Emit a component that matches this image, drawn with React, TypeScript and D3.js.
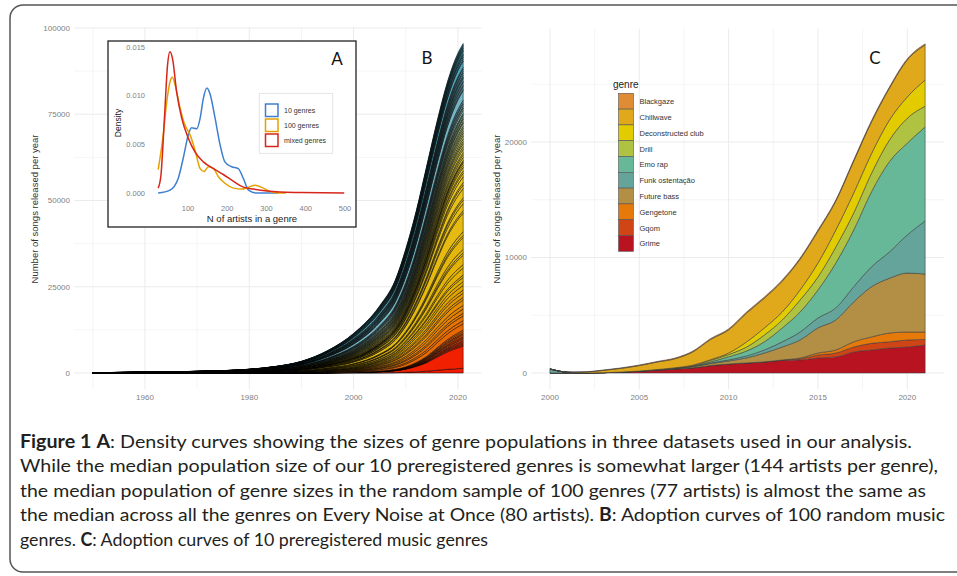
import * as d3 from "d3";

// ---------- Panel A: density of genre sizes ----------
const tenGenresDensity: [number, number][] = [
  [24, 0], [54, 0.0003], [75, 0.0015], [88, 0.0036], [101, 0.006], [109, 0.0067], [122, 0.0066],
  [131, 0.0077], [139, 0.0097], [148, 0.0108], [156, 0.0102], [169, 0.0077], [182, 0.0049],
  [194, 0.0032], [211, 0.0027], [228, 0.0025], [241, 0.0015], [254, 0.0003], [275, 0], [330, 0]
];
const hundredGenresDensity: [number, number][] = [
  [24, 0.0024], [37, 0.006], [46, 0.0094], [54, 0.0114], [60, 0.0119], [69, 0.0108], [80, 0.0087],
  [92, 0.007], [105, 0.006], [118, 0.0044], [131, 0.0025], [141, 0.0022], [152, 0.0027],
  [165, 0.0025], [177, 0.0017], [194, 0.001], [216, 0.0005], [237, 0.0004], [254, 0.0006],
  [271, 0.0008], [292, 0.0005], [313, 0.0001], [334, 0], [350, 0]
];
const mixedGenresDensity: [number, number][] = [
  [24, 0.0005], [31, 0.0018], [40, 0.0077], [48, 0.0132], [54, 0.0145], [61, 0.0137], [71, 0.0104],
  [84, 0.0077], [101, 0.0056], [118, 0.0042], [139, 0.0032], [165, 0.0025], [190, 0.0019],
  [216, 0.0012], [241, 0.0006], [267, 0.0004], [301, 0.0002], [334, 0.0001], [386, 0.00005], [498, 0]
];
const densityLabels = ["10 genres", "100 genres", "mixed genres"];
const densityColors = ["#3f7fcf", "#e6a100", "#d6261a"];
const densityXTicks = [100, 200, 300, 400, 500];
const densityYTicks = [0, 0.005, 0.01, 0.015];

// ---------- Panel B: 100 random genres, in five colour groups ----------
const adoptionYears = [1950, 1960, 1970, 1980, 1985, 1990, 1995, 2000, 2005, 2008, 2010, 2012, 2014, 2016, 2018, 2020, 2021];
const redGroupSongs = [2, 5, 10, 22, 38, 68, 130, 230, 585, 1080, 1800, 3055, 4800, 7300, 9720, 11625, 12415];
const orangeGroupSongs = [12, 30, 60, 132, 228, 408, 780, 1380, 2925, 4590, 6480, 8460, 10500, 12410, 13940, 14880, 15280];
const yellowGroupSongs = [25, 62, 125, 275, 475, 850, 1625, 2875, 5070, 7155, 9720, 13630, 18600, 24090, 29150, 32740, 33900];
const oliveGroupSongs = [15, 38, 75, 165, 285, 510, 975, 1725, 2730, 3510, 4320, 5640, 7200, 8540, 9720, 10510, 10790];
const blueGroupSongs = [46, 115, 230, 506, 874, 1564, 2990, 5290, 8190, 10665, 13680, 16215, 18900, 20660, 21970, 23000, 23110];
// relative size of each genre inside its group (bottom to top)
const redGroupWeights = [11, 52, 3, 3, 3, 3, 4, 3, 3, 4, 3, 4, 4];
const orangeGroupWeights = [12, 6, 9, 5, 8, 7, 10, 5, 8, 6, 9, 7, 8];
const yellowGroupWeights = [2, 6, 3, 8, 2, 3, 10, 2, 3, 16, 2, 6, 3, 2, 8, 3, 2, 5, 3, 2, 3, 2, 2, 1, 1];
const oliveGroupWeights = [8, 7, 6, 9, 7, 8, 6, 7, 8, 7, 6, 7, 6, 8];
const blueGroupWeights = [2, 3, 2, 3, 2, 4, 3, 2, 3, 2, 3, 12, 2, 3, 2, 3, 2, 3, 2, 2, 3, 2, 3, 2, 8, 2, 3, 2, 2, 3, 2, 2, 2, 2, 2];
const zissou = ["#F21A00", "#E1AF00", "#EBCC2A", "#78B7C5", "#3B9AB2"];
const bYTicks = [0, 25000, 50000, 75000, 100000];
const bXTicks = [1960, 1980, 2000, 2020];

// ---------- Panel C: 10 preregistered genres ----------
const genreYears = d3.range(2000, 2022);
const genreNames = ["Grime", "Gqom", "Gengetone", "Future bass", "Funk ostentação", "Emo rap", "Drill", "Deconstructed club", "Chillwave", "Blackgaze"];
const genreColors = ["#b81321", "#d04516", "#e57a0b", "#b38f45", "#65a49a", "#67b899", "#afc241", "#e2cc00", "#e0a91c", "#df8c35"];
const grime = [0, 0, 10, 30, 80, 150, 250, 350, 450, 650, 780, 870, 950, 1100, 1130, 1300, 1390, 1820, 1990, 2160, 2250, 2420];
const gqom = [0, 0, 0, 0, 0, 0, 0, 0, 0, 0, 0, 5, 10, 20, 100, 260, 340, 430, 580, 540, 610, 480];
const gengetone = [0, 0, 0, 0, 0, 0, 0, 0, 0, 0, 0, 0, 5, 10, 70, 170, 260, 450, 550, 760, 690, 650];
const futureBass = [0, 0, 0, 0, 5, 15, 30, 60, 100, 170, 260, 430, 765, 1120, 1560, 2170, 2600, 3450, 4350, 4740, 5100, 5020];
const funkOstentacao = [350, 60, 0, 0, 0, 0, 0, 0, 20, 50, 100, 170, 260, 450, 690, 860, 1040, 1320, 1730, 2280, 3300, 4590];
const emoRap = [0, 0, 0, 0, 0, 0, 5, 10, 30, 100, 260, 430, 710, 1200, 1730, 2430, 3890, 4910, 6500, 7820, 7950, 8140];
const drill = [0, 0, 0, 0, 0, 0, 5, 15, 40, 120, 200, 340, 590, 690, 1040, 1120, 1390, 1470, 1600, 1870, 2160, 1800];
const deconstructedClub = [0, 0, 0, 0, 0, 5, 10, 20, 40, 70, 130, 440, 610, 690, 870, 1210, 1470, 1730, 1700, 1730, 1840, 2270];
const chillwave = [0, 10, 80, 200, 320, 470, 650, 780, 1150, 1750, 2000, 2490, 2580, 2670, 2660, 2760, 2500, 2760, 2750, 2760, 3200, 3030];
const blackgaze = [0, 5, 15, 30, 40, 50, 50, 60, 70, 80, 90, 100, 100, 100, 100, 100, 100, 100, 100, 100, 100, 100];
const genreSeries = [grime, gqom, gengetone, futureBass, funkOstentacao, emoRap, drill, deconstructedClub, chillwave, blackgaze];
const cYTicks = [0, 10000, 20000];
const cXTicks = [2000, 2005, 2010, 2015, 2020];

const captionLines = [
  { parts: [["Figure 1", true], ["  ", false], ["A", true], [": Density curves showing the sizes of genre populations in three datasets used in our analysis.", false]], width: 892 },
  { parts: [["While the median population size of our 10 preregistered genres is somewhat larger (144 artists per genre),", false]], width: 918 },
  { parts: [["the median population of genre sizes in the random sample of 100 genres (77 artists) is almost the same as", false]], width: 906 },
  { parts: [["the median across all the genres on Every Noise at Once (80 artists). ", false], ["B", true], [": Adoption curves of 100 random music", false]], width: 925 },
  { parts: [["genres. ", false], ["C", true], [": Adoption curves of 10 preregistered music genres", false]], width: 468 }
] as { parts: [string, boolean][]; width: number }[];

const AXIS_FONT = "'Liberation Sans', Arial, sans-serif";
const GRID = "#ebebeb";

export default function App() {
  // ----- B -----
  const groups = [
    { values: redGroupSongs, weights: redGroupWeights },
    { values: orangeGroupSongs, weights: orangeGroupWeights },
    { values: yellowGroupSongs, weights: yellowGroupWeights },
    { values: oliveGroupSongs, weights: oliveGroupWeights },
    { values: blueGroupSongs, weights: blueGroupWeights }
  ];
  const bKeys: string[] = [];
  groups.forEach((g) => g.weights.forEach(() => bKeys.push(`g${bKeys.length}`)));
  const bRows = adoptionYears.map((year, yi) => {
    const row: Record<string, number> = { year };
    let k = 0;
    groups.forEach((g) => {
      const total = d3.sum(g.weights);
      g.weights.forEach((w) => {
        row[`g${k}`] = (g.values[yi] * w) / total;
        k++;
      });
    });
    return row;
  });
  const bStack = d3.stack<Record<string, number>>().keys(bKeys)(bRows);
  const bx = d3.scaleLinear().domain([1946.45, 2024.55]).range([74.3, 481.7]);
  const by = d3.scaleLinear().domain([-4775, 100275]).range([389.5, 27]);
  const bColor = d3.scaleLinear<string>().domain([0, 0.25, 0.5, 0.75, 1]).range(zissou);
  const bArea = d3
    .area<d3.SeriesPoint<Record<string, number>>>()
    .x((d) => bx(d.data.year))
    .y0((d) => by(d[0]))
    .y1((d) => by(d[1]))
    .curve(d3.curveMonotoneX);

  // ----- C -----
  const cRows = genreYears.map((year, i) => {
    const row: Record<string, number> = { year };
    genreNames.forEach((name, gi) => (row[name] = genreSeries[gi][i]));
    return row;
  });
  const cStack = d3.stack<Record<string, number>>().keys(genreNames)(cRows);
  const cx = d3.scaleLinear().domain([1998.95, 2022.05]).range([531.2, 943.9]);
  const cy = d3.scaleLinear().domain([-1420, 29820]).range([389.4, 28.6]);
  const cArea = d3
    .area<d3.SeriesPoint<Record<string, number>>>()
    .x((d) => cx(d.data.year))
    .y0((d) => cy(d[0]))
    .y1((d) => cy(d[1]))
    .curve(d3.curveMonotoneX);

  // ----- A (inset) -----
  const ax = d3.scaleLinear().domain([100, 500]).range([188, 345]);
  const ay = d3.scaleLinear().domain([0, 0.015]).range([193, 47]);
  const densityLine = d3
    .line<[number, number]>()
    .x((d) => ax(d[0]))
    .y((d) => ay(d[1]))
    .curve(d3.curveMonotoneX);
  const densities = [tenGenresDensity, hundredGenresDensity, mixedGenresDensity];

  const bMinorX = [1950, 1970, 1990, 2010];
  const bMinorY = [12500, 37500, 62500, 87500];
  const cMinorX = [2002.5, 2007.5, 2012.5, 2017.5];
  const cMinorY = [5000, 15000, 25000];

  return (
    <div style={{ position: "absolute", left: 0, top: 0 }}>
      <svg width={957} height={576} viewBox="0 0 957 576" style={{ display: "block", background: "#fff" }}>
        <rect x={10} y={5} width={980} height={567} rx={13} fill="#fff" stroke="#555" strokeWidth={1.5} />

        {/* ---------- Panel B ---------- */}
        <g fontFamily={AXIS_FONT}>
          {bMinorY.map((v) => (
            <line key={`bmy${v}`} x1={74.3} x2={481.7} y1={by(v)} y2={by(v)} stroke={GRID} strokeWidth={0.5} />
          ))}
          {bMinorX.map((v) => (
            <line key={`bmx${v}`} x1={bx(v)} x2={bx(v)} y1={27} y2={389.5} stroke={GRID} strokeWidth={0.5} />
          ))}
          {bYTicks.map((v) => (
            <line key={`by${v}`} x1={74.3} x2={481.7} y1={by(v)} y2={by(v)} stroke={GRID} strokeWidth={1} />
          ))}
          {bXTicks.map((v) => (
            <line key={`bx${v}`} x1={bx(v)} x2={bx(v)} y1={27} y2={389.5} stroke={GRID} strokeWidth={1} />
          ))}
          {bStack.map((s, i) => (
            <path key={s.key} d={bArea(s) ?? ""} fill={bColor(i / (bKeys.length - 1))} stroke="#000" strokeWidth={0.5} />
          ))}
          {bYTicks.map((v) => (
            <text key={`byl${v}`} x={70} y={by(v) + 2.8} fontSize={8} fill="#7f7f7f" textAnchor="end">
              {v}
            </text>
          ))}
          {bXTicks.map((v) => (
            <text key={`bxl${v}`} x={bx(v)} y={400} fontSize={8} fill="#7f7f7f" textAnchor="middle">
              {v}
            </text>
          ))}
          <text transform="translate(38,209) rotate(-90)" fontSize={9.5} fill="#333" textAnchor="middle">
            Number of songs released per year
          </text>
        </g>

        {/* ---------- Inset A ---------- */}
        <g fontFamily={AXIS_FONT}>
          <rect x={108} y={41} width={248} height={186} fill="#fff" stroke="#222" strokeWidth={1.3} />
          {densityYTicks.map((v) => (
            <text key={`ayl${v}`} x={145} y={ay(v) + 2.6} fontSize={7.5} fill="#7f7f7f" textAnchor="end">
              {v.toFixed(3)}
            </text>
          ))}
          {densityXTicks.map((v) => (
            <text key={`axl${v}`} x={ax(v)} y={211} fontSize={7.5} fill="#7f7f7f" textAnchor="middle">
              {v}
            </text>
          ))}
          <text x={252} y={222} fontSize={9.5} fill="#222" textAnchor="middle">
            N of artists in a genre
          </text>
          <text transform="translate(121,123) rotate(-90)" fontSize={8.5} fill="#222" textAnchor="middle">
            Density
          </text>
          {densities.map((d, i) => (
            <path key={densityLabels[i]} d={densityLine(d) ?? ""} fill="none" stroke={densityColors[i]} strokeWidth={1.5} />
          ))}
          <rect x={259.3} y={93.3} width={73.4} height={60} fill="#fff" stroke="#dedede" strokeWidth={0.8} />
          {densityLabels.map((label, i) => (
            <g key={label}>
              <rect x={265.5} y={104 + i * 15} width={12.5} height={12.5} fill="#fff" stroke={densityColors[i]} strokeWidth={1.5} />
              <text x={284} y={113 + i * 15} fontSize={7} fill="#333">
                {label}
              </text>
            </g>
          ))}
        </g>

        {/* ---------- Panel C ---------- */}
        <g fontFamily={AXIS_FONT}>
          {cMinorY.map((v) => (
            <line key={`cmy${v}`} x1={531.2} x2={943.9} y1={cy(v)} y2={cy(v)} stroke={GRID} strokeWidth={0.5} />
          ))}
          {cMinorX.map((v) => (
            <line key={`cmx${v}`} x1={cx(v)} x2={cx(v)} y1={28.6} y2={389.4} stroke={GRID} strokeWidth={0.5} />
          ))}
          {cYTicks.map((v) => (
            <line key={`cy${v}`} x1={531.2} x2={943.9} y1={cy(v)} y2={cy(v)} stroke={GRID} strokeWidth={1} />
          ))}
          {cXTicks.map((v) => (
            <line key={`cx${v}`} x1={cx(v)} x2={cx(v)} y1={28.6} y2={389.4} stroke={GRID} strokeWidth={1} />
          ))}
          {cStack.map((s, i) => (
            <path key={s.key} d={cArea(s) ?? ""} fill={genreColors[i]} stroke="#3a3a3a" strokeWidth={0.55} />
          ))}
          {cYTicks.map((v) => (
            <text key={`cyl${v}`} x={527} y={cy(v) + 2.8} fontSize={8} fill="#7f7f7f" textAnchor="end">
              {v}
            </text>
          ))}
          {cXTicks.map((v) => (
            <text key={`cxl${v}`} x={cx(v)} y={400} fontSize={8} fill="#7f7f7f" textAnchor="middle">
              {v}
            </text>
          ))}
          <text transform="translate(500,209) rotate(-90)" fontSize={9.5} fill="#333" textAnchor="middle">
            Number of songs released per year
          </text>
          <text x={613} y={88} fontSize={10} fill="#222">
            genre
          </text>
          {genreNames
            .slice()
            .reverse()
            .map((name, i) => {
              const colour = genreColors[genreNames.length - 1 - i];
              return (
                <g key={name}>
                  <rect x={618.5} y={93.3 + i * 15.8} width={15} height={15.8} fill={colour} stroke="#555" strokeWidth={0.6} />
                  <text x={639.5} y={104.2 + i * 15.8} fontSize={7.5} fill="#333">
                    {name}
                  </text>
                </g>
              );
            })}
        </g>

        {/* panel letters */}
        <g fontFamily="Lato, 'Open Sans', sans-serif" fontSize={17} fill="#111">
          <text x={337} y={65} textAnchor="middle">A</text>
          <text x={427} y={64} textAnchor="middle">B</text>
          <text x={875} y={64} textAnchor="middle">C</text>
        </g>

        {/* caption */}
        <g fontFamily="Lato, 'Open Sans', sans-serif" fontSize={18} fill="#231f20">
          {captionLines.map((line, i) => (
            <text key={i} x={20} y={448 + i * 24.4} textLength={line.width} lengthAdjust="spacingAndGlyphs">
              {line.parts.map(([t, bold], j) => (
                <tspan key={j} fontWeight={bold ? 700 : 400}>
                  {t}
                </tspan>
              ))}
            </text>
          ))}
        </g>
      </svg>
    </div>
  );
}
